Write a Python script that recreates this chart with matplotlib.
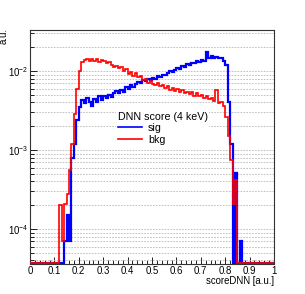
import numpy as np
import matplotlib
matplotlib.use("Agg")
import matplotlib.pyplot as plt
from matplotlib.ticker import MultipleLocator, LogLocator, NullFormatter, LogFormatterSciNotation

plt.rcParams['font.family'] = ['Liberation Sans', 'DejaVu Sans']
plt.rcParams['mathtext.fontset'] = 'custom'
plt.rcParams['mathtext.rm'] = 'Liberation Sans'
plt.rcParams['mathtext.it'] = 'Liberation Sans:italic'

# ---- data ----
bin_edges = np.linspace(0.0, 1.0, 101)

sig_first_bin = 14
sig_vals = [7e-5, 1.5e-4, 7e-5, 8e-4, 1.2e-3, 2.4e-3, 3.5e-3, 4.3e-3, 3.9e-3, 4.6e-3,
            4.0e-3, 3.6e-3, 4.4e-3, 4.1e-3, 4.8e-3, 4.3e-3, 4.9e-3, 4.5e-3, 5.0e-3, 4.7e-3,
            5.2e-3, 5.6e-3, 5.3e-3, 5.8e-3, 5.5e-3, 6.2e-3, 6.0e-3, 6.6e-3, 6.3e-3, 6.9e-3,
            7.3e-3, 7.0e-3, 7.6e-3, 7.4e-3, 7.9e-3, 7.7e-3, 8.2e-3, 8.0e-3, 8.6e-3, 8.4e-3,
            9.0e-3, 8.8e-3, 9.5e-3, 9.9e-3, 9.6e-3, 1.04e-2, 1.08e-2, 1.05e-2, 1.15e-2, 1.12e-2,
            1.22e-2, 1.18e-2, 1.28e-2, 1.25e-2, 1.33e-2, 1.30e-2, 1.38e-2, 1.35e-2, 1.75e-2, 1.45e-2,
            1.55e-2, 1.48e-2, 1.52e-2, 1.45e-2, 1.48e-2, 1.35e-2, 1.2e-2, 4e-3, 1.2e-3, 0.0,
            5.1e-4, 0.0, 7e-5]

bkg_first_bin = 12
bkg_vals = [2.0e-4, 7e-5, 2.1e-4, 2.8e-4, 5.6e-4, 1.2e-3, 2.9e-3, 6.0e-3, 1.0e-2, 1.3e-2,
            1.40e-2, 1.44e-2, 1.36e-2, 1.42e-2, 1.33e-2, 1.43e-2, 1.30e-2, 1.38e-2, 1.34e-2, 1.26e-2,
            1.30e-2, 1.18e-2, 1.13e-2, 1.16e-2, 1.08e-2, 1.11e-2, 9.9e-3, 1.05e-2, 9.3e-3, 9.8e-3,
            8.7e-3, 9.5e-3, 8.3e-3, 8.7e-3, 7.6e-3, 7.9e-3, 7.1e-3, 7.5e-3, 6.9e-3, 6.7e-3,
            7.1e-3, 6.4e-3, 6.6e-3, 6.1e-3, 6.4e-3, 5.8e-3, 6.1e-3, 5.6e-3, 5.9e-3, 5.4e-3,
            5.7e-3, 5.3e-3, 5.5e-3, 5.1e-3, 5.4e-3, 4.9e-3, 5.2e-3, 4.8e-3, 5.0e-3, 4.6e-3,
            4.9e-3, 4.4e-3, 4.6e-3, 4.2e-3, 5.8e-3, 3.9e-3, 4.1e-3, 3.6e-3, 2.6e-3, 1.5e-3,
            7.5e-4, 2.1e-4, 4.2e-4]

labels = ["sig", "bkg"]
legend_title = "DNN score (4 keV)"
xlabel = "scoreDNN [a.u.]"
ylabel = "a.u."

nb = len(bin_edges) - 1
sig = np.zeros(nb)
sig[sig_first_bin:sig_first_bin + len(sig_vals)] = sig_vals
bkg = np.zeros(nb)
bkg[bkg_first_bin:bkg_first_bin + len(bkg_vals)] = bkg_vals

# ---- figure ----
W, H = 305, 294
fig = plt.figure(figsize=(W / 100, H / 100), dpi=100)
L, R, T, B = 30, 274, 30, 264
ax = fig.add_axes([L / W, (H - B) / H, (R - L) / W, (B - T) / H])

ymin, ymax = 10 ** -4.443, 10 ** -1.48
floor = ymin * 1.015

ax.set_yscale('log')
ax.set_xlim(0, 1)
ax.set_ylim(ymin, ymax)

ax.stairs(np.where(sig > 0, sig, floor), bin_edges, baseline=None, color='#0000ff', lw=1.6, label=labels[0], zorder=3)
ax.stairs(np.where(bkg > 0, bkg, floor), bin_edges, baseline=None, color='#ff0000', lw=1.2, label=labels[1], zorder=4)

# grid
ax.yaxis.grid(True, which='both', linestyle=(0, (2, 1.5)), color='#b8b8b8', linewidth=0.6)
ax.set_axisbelow(True)

# ticks
ax.xaxis.set_major_locator(MultipleLocator(0.1))
ax.xaxis.set_minor_locator(MultipleLocator(0.02))
ax.set_xticks(np.round(np.arange(0, 1.01, 0.1), 1))
ax.set_xticklabels(["0"] + [f"{v:.1f}" for v in np.arange(0.1, 0.95, 0.1)] + ["1"])
ax.yaxis.set_major_locator(LogLocator(base=10, numticks=10))
ax.yaxis.set_minor_locator(LogLocator(base=10, subs=np.arange(2, 10), numticks=10))
ax.yaxis.set_minor_formatter(NullFormatter())
ax.yaxis.set_major_formatter(LogFormatterSciNotation())

ax.tick_params(axis='both', which='major', direction='in', length=5, width=0.6, labelsize=6.9, pad=1.5)
ax.tick_params(axis='both', which='minor', direction='in', length=2.8, width=0.6)
ax.tick_params(top=False, right=False)
for s in ax.spines.values():
    s.set_linewidth(0.8)
    s.set_color('#333333')

fig.text(R / W, 1 - 281 / H, xlabel, ha='right', va='center', fontsize=6.9)
fig.text(3.5 / W, 1 - 28 / H, ylabel, ha='center', va='top', rotation=90, fontsize=6.9)

leg = ax.legend(title=legend_title, loc='upper left', bbox_to_anchor=(116 / W, 1 - 110 / H),
                bbox_transform=fig.transFigure, fontsize=7.7, title_fontsize=7.7,
                frameon=True, fancybox=False, framealpha=1.0, borderpad=0.15,
                handlelength=2.3, handletextpad=0.55, labelspacing=0.15, borderaxespad=0,
                alignment='left')
leg.get_frame().set_edgecolor('none')
leg.get_frame().set_facecolor('white')
for h in leg.get_lines():
    h.set_linewidth(1.2)

fig.savefig("out.png", dpi=100)
